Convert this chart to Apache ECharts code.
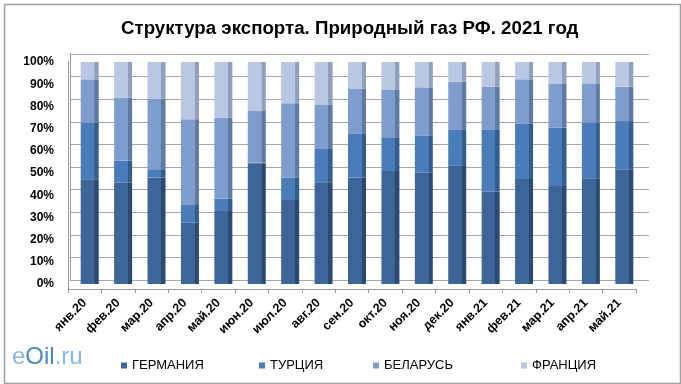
<!DOCTYPE html>
<html>
<head>
<meta charset="utf-8">
<script src="https://cdn.jsdelivr.net/npm/echarts@6/dist/echarts.min.js"></script>
<style>
html,body{margin:0;padding:0;background:#fff;}
#c{width:681px;height:384px;}
</style>
</head>
<body>
<div id="c"></div>
<script>
var categories = ['янв.20','фев.20','мар.20','апр.20','май.20','июн.20','июл.20','авг.20','сен.20','окт.20','ноя.20','дек.20','янв.21','фев.21','мар.21','апр.21','май.21'];
var germany = [47.2,45.6,47.9,27.6,32.9,54.4,37.8,45.8,47.9,50.9,50.1,53.2,41.6,47.3,44.1,47.6,51.7];
var turkey  = [25.5, 9.9, 3.8, 8.0, 5.5, 0.3,10.1,15.0,19.7,15.2,16.6,16.2,27.8,24.8,26.4,25.2,21.7];
var belarus = [19.5,28.4,31.9,38.6,36.5,23.2,33.5,20.1,20.5,21.3,21.9,21.7,19.5,20.1,19.6,17.6,15.5];
var france  = [ 7.8,16.1,16.4,25.8,25.1,22.1,18.6,19.1,11.9,12.6,11.4, 8.9,11.1, 7.8, 9.9, 9.6,11.1];
var seriesNames = ['ГЕРМАНИЯ','ТУРЦИЯ','БЕЛАРУСЬ','ФРАНЦИЯ'];
var yTicks = [0,10,20,30,40,50,60,70,80,90,100];

var FONT = 'Liberation Sans, Arial, sans-serif';
function shade(main, dark){
  return {type:'linear',x:0,y:0,x2:1,y2:0,colorStops:[
    {offset:0,color:main},{offset:0.76,color:main},{offset:0.77,color:dark},{offset:1,color:dark}]};
}
var colors = [
  ['#3d6597','#2a4a73'],
  ['#4a7cba','#345d8f'],
  ['#7f9dcc','#5e7aa5'],
  ['#b9c7e2','#8f9fbd']
];
var dataSets = [germany, turkey, belarus, france];

var chart = echarts.init(document.getElementById('c'), null, {renderer:'canvas'});
var series = dataSets.map(function(d,i){
  return {
    name: seriesNames[i], type:'bar', stack:'s', xAxisIndex:0, yAxisIndex:0,
    data: d, barWidth: 18,
    itemStyle:{color: shade(colors[i][0], colors[i][1])},
    emphasis:{disabled:true}
  };
});
var legendX = [116, 254, 368, 516];
var legends = seriesNames.map(function(n,i){
  return {
    data:[{name:n, icon:'rect', itemStyle:{color:colors[i][0]}}], left: legendX[i], top: 354,
    itemWidth: 6, itemHeight: 6, itemGap: 6,
    textStyle:{fontFamily:FONT, fontSize:13, color:'#000'},
    selectedMode:false
  };
});
chart.setOption({
  animation:false,
  title:{
    text:'Структура экспорта. Природный газ РФ. 2021 год',
    left:116, top:14,
    textStyle:{fontFamily:FONT, fontSize:18.7, fontWeight:'bold', color:'#000'}
  },
  legend: legends,
  grid:[
    {left:73, right:40, top:62, bottom:100},
    {left:70, right:32, top:54, bottom:104},
    {left:68, right:45, top:62, bottom:95}
  ],
  xAxis:[
    {type:'category', data:categories, gridIndex:0, show:false},
    {type:'category', data:categories, gridIndex:1, show:false},
    {type:'category', data:categories, gridIndex:2,
     axisLine:{show:true, lineStyle:{color:'#9a9a9a'}},
     axisTick:{show:true, length:4, lineStyle:{color:'#9a9a9a'}},
     axisLabel:{rotate:45, fontFamily:FONT, fontSize:12.5, fontWeight:'bold', color:'#000', margin:12, interval:0}}
  ],
  yAxis:[
    {type:'value', gridIndex:0, min:0, max:100, interval:10,
     axisLine:{show:false}, axisTick:{show:false}, splitLine:{show:false},
     axisLabel:{formatter:'{value}%', fontFamily:FONT, fontSize:12, fontWeight:'bold', color:'#000', margin:19}},
    {type:'value', gridIndex:1, min:0, max:100, interval:10,
     axisLine:{show:true, lineStyle:{color:'#9a9a9a'}}, axisTick:{show:false}, axisLabel:{show:false},
     splitLine:{show:true, lineStyle:{color:'#a6a6a6', width:1}}},
    {type:'value', gridIndex:2, min:0, max:100, show:true,
     axisLine:{show:true, lineStyle:{color:'#9a9a9a'}}, axisTick:{show:false}, axisLabel:{show:false}, splitLine:{show:false}}
  ],
  graphic:[
    {type:'rect', left:2, top:2, shape:{width:676, height:379}, style:{fill:'none', stroke:'#a0a0a0', lineWidth:1.5}, silent:true},
    {type:'text', left:12, top:345, silent:true,
     style:{text:'{a|e}{b|Oil}{a|.ru}', fontFamily:FONT, fontSize:24,
       rich:{a:{fontFamily:FONT, fontSize:24, fill:'#86b6e2'}, b:{fontFamily:FONT, fontSize:24, fill:'#4d88c6'}}}}
  ],
  series: series
});
</script>
</body>
</html>
